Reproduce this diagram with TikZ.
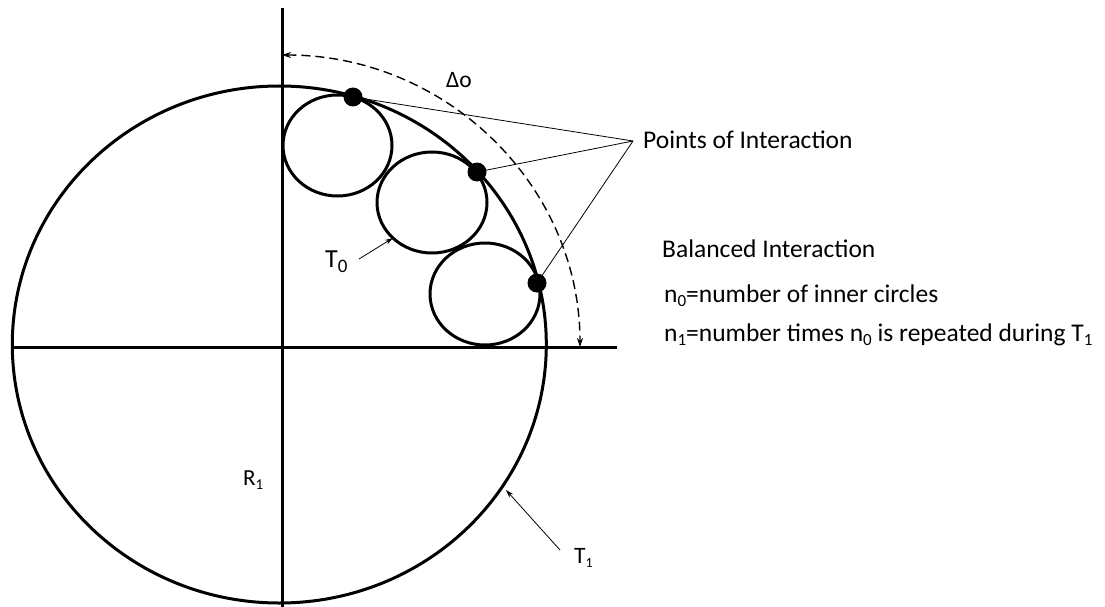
\documentclass[tikz,border=0pt]{standalone}
\usepackage{fontspec}
\setmainfont{Carlito}
\usetikzlibrary{arrows.meta}
\newcommand{\lowsub}[3]{\raisebox{-#3pt}{\fontsize{#1}{#1}\selectfont #2}}
\begin{document}
\begin{tikzpicture}[x=1pt,y=-1pt,
  thick line/.style={line width=3pt},
  thin line/.style={line width=0.8pt},
  dot/.style={circle,fill=black,inner sep=0pt,minimum size=19pt},
  bigtext/.style={font=\fontsize{25.5}{30}\selectfont,inner sep=0pt,anchor=base west},
  lbl/.style={inner sep=0pt,anchor=base west}]
\useasboundingbox (0,0) rectangle (1105,607);
% axes
\coordinate (vtop) at (282,8);
\coordinate (vbot) at (282,607);
\coordinate (hl) at (12,347);
\coordinate (hr) at (617,347);
\draw[thick line] (vtop) -- (vbot);
\draw[thick line] (hl) -- (hr);
% big circle
\draw[thick line] (279.3,344.5) ellipse [x radius=267, y radius=258.5];
% inner circles
\draw[thick line] (337.5,145.5) ellipse [x radius=54.5, y radius=50.5];
\draw[thick line] (432,202.5) ellipse [x radius=55, y radius=50.5];
\draw[thick line] (485,294) ellipse [x radius=55, y radius=51];
% dashed arc
\draw[line width=1.4pt,dash pattern=on 9pt off 5pt,{Stealth[length=9pt,width=6pt]}-{Stealth[length=9pt,width=6pt]}]
  (282,55) arc[start angle=-90,end angle=0,x radius=298,y radius=292];
% dots
\node[dot] (d1) at (353,97) {};
\node[dot] (d2) at (477,172) {};
\node[dot] (d3) at (537,283) {};
% points of interaction
\coordinate (conv) at (633,141);
\draw[thin line] (d1.center) -- (conv);
\draw[thin line] (d2.center) -- (conv);
\draw[thin line] (d3.center) -- (conv);
\node[bigtext] (poi) at (643,149) {Points of Interaction};
\node[bigtext] (bal) at (662,257) {Balanced Interaction};
\node[bigtext] (n0) at (664,302) {n\lowsub{17}{0}{4}=number of inner circles};
\node[bigtext] (n1) at (664,341) {n\lowsub{17}{1}{4}=number times n\lowsub{17}{0}{4} is repeated during T\lowsub{17}{1}{4}};
% labels
\node[lbl,font=\fontsize{23.5}{27}\selectfont] (delta) at (446,88) {Δo};
\node[lbl,font=\fontsize{26}{30}\selectfont] (t0) at (325,267) {T\lowsub{19}{0}{5}};
\node[lbl,font=\fontsize{23}{27}\selectfont] (r1) at (243,485) {R\lowsub{15}{1}{4}};
\node[lbl,font=\fontsize{23.5}{28}\selectfont] (t1) at (574,563) {T\lowsub{14}{1}{4}};
\coordinate (t0s) at (359,259);
\coordinate (t0e) at (393,238);
\draw[thin line,-{Stealth[length=8pt,width=5pt]}] (t0s) -- (t0e);
\coordinate (t1s) at (560,550);
\coordinate (t1e) at (506,490);
\draw[thin line,-{Stealth[length=8pt,width=5pt]}] (t1s) -- (t1e);
\end{tikzpicture}
\end{document}
